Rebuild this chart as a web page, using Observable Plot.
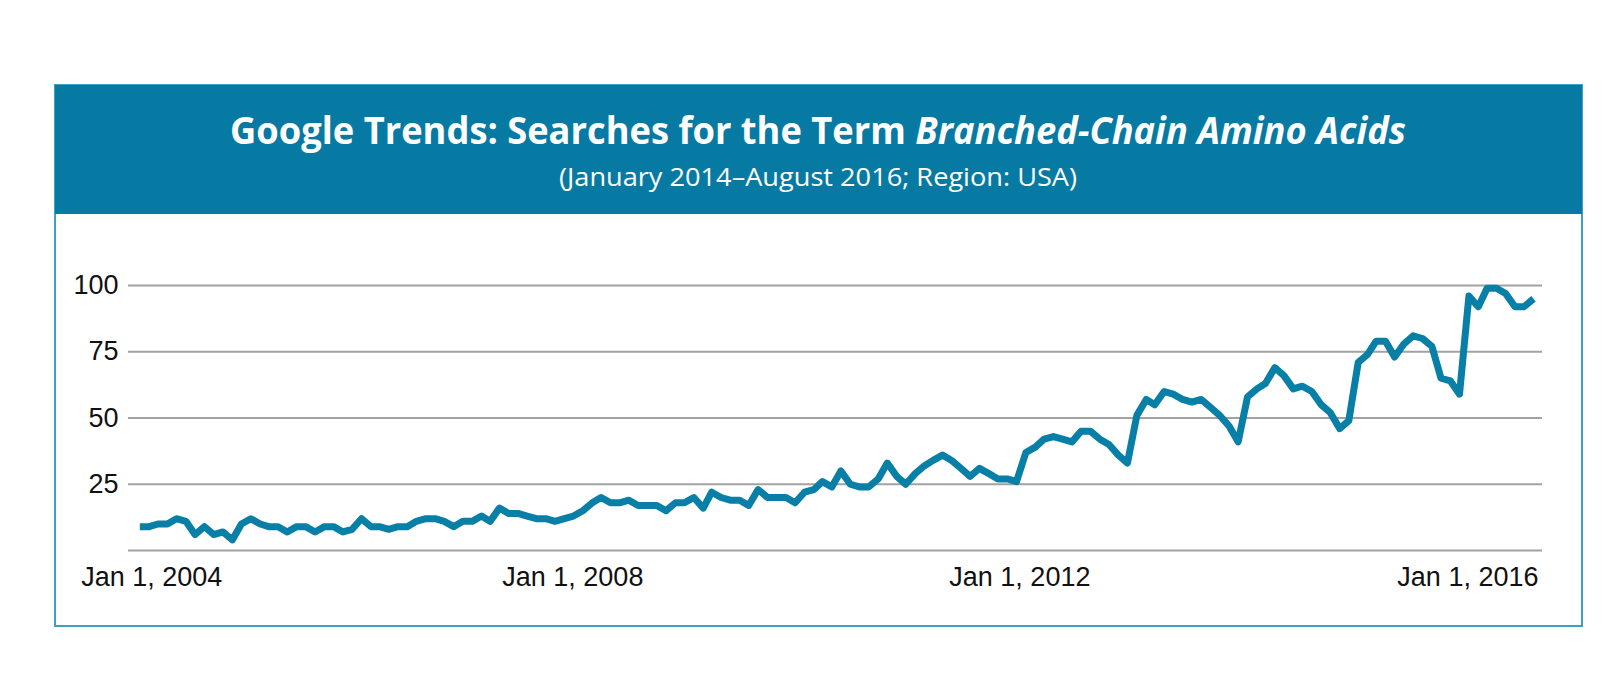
<!DOCTYPE html>
<html><head><meta charset="utf-8">
<script src="https://cdn.jsdelivr.net/npm/d3@7"></script>
<script src="https://cdn.jsdelivr.net/npm/@observablehq/plot@0.6"></script>
<style>
html,body{margin:0;padding:0;background:#fff;width:1624px;height:696px;overflow:hidden;}
#frame{position:absolute;left:54px;top:84px;width:1525px;height:539px;border:2px solid #3f9fc6;}
#band{position:absolute;left:55px;top:85px;width:1527px;height:129px;background:#077aa3;}
#head{position:absolute;left:0;top:0;}
#chart{position:absolute;left:0;top:214px;}
</style></head><body>
<div id="frame"></div>
<div id="band"></div>
<svg id="head" width="1624" height="214">
  <text x="818" y="144" text-anchor="middle" fill="#fff" font-family="Open Sans" font-weight="700" font-size="37" textLength="1176" lengthAdjust="spacingAndGlyphs">Google Trends: Searches for the Term <tspan font-style="italic">Branched-Chain Amino Acids</tspan></text>
  <text x="818" y="186" text-anchor="middle" fill="#fff" font-family="Open Sans" font-weight="400" font-size="25" textLength="518" lengthAdjust="spacingAndGlyphs">(January 2014–August 2016; Region: USA)</text>
</svg>
<div id="chart"></div>
<script>
// Monthly search interest (index, max = 100), January 2004 – August 2016
const y2004 = [9, 9, 10, 10, 12, 11, 6, 9, 6, 7, 4, 10];
const y2005 = [12, 10, 9, 9, 7, 9, 9, 7, 9, 9, 7, 8];
const y2006 = [12, 9, 9, 8, 9, 9, 11, 12, 12, 11, 9, 11];
const y2007 = [11, 13, 11, 16, 14, 14, 13, 12, 12, 11, 12, 13];
const y2008 = [15, 18, 20, 18, 18, 19, 17, 17, 17, 15, 18, 18];
const y2009 = [20, 16, 22, 20, 19, 19, 17, 23, 20, 20, 20, 18];
const y2010 = [22, 23, 26, 24, 30, 25, 24, 24, 27, 33, 28, 25];
const y2011 = [29, 32, 34, 36, 34, 31, 28, 31, 29, 27, 27, 26];
const y2012 = [37, 39, 42, 43, 42, 41, 45, 45, 42, 40, 36, 33];
const y2013 = [51, 57, 55, 60, 59, 57, 56, 57, 54, 51, 47, 41];
const y2014 = [58, 61, 63, 69, 66, 61, 62, 60, 55, 52, 46, 49];
const y2015 = [71, 74, 79, 79, 73, 78, 81, 80, 77, 65, 64, 59];
const y2016 = [96, 92, 99, 99, 97, 92, 92, 95];

const startYear = 2004;
const yTicks = [25, 50, 75, 100];
const xTickDates = ["2004-01-01", "2008-01-01", "2012-01-01", "2016-01-01"];
const xTickLabels = ["Jan 1, 2004", "Jan 1, 2008", "Jan 1, 2012", "Jan 1, 2016"];

const values = [y2004, y2005, y2006, y2007, y2008, y2009, y2010, y2011, y2012, y2013, y2014, y2015, y2016].flat();
const start = new Date(Date.UTC(startYear, 0, 1));
const data = values.map((v, i) => ({date: d3.utcMonth.offset(start, i), value: v}));

const DAY = 864e5;
const xDomain = [new Date(+start - 37.3 * DAY), new Date(+data[data.length - 1].date + 29.7 * DAY)];
const labelShift = [12, -10, -6, -1];

const tickAxes = xTickDates.map((d, i) => Plot.axisX({
  ticks: [new Date(d + "T00:00:00Z")],
  tickFormat: () => xTickLabels[i],
  tickSize: 0,
  tickPadding: 16,
  dx: labelShift[i],
  fontSize: 27,
  fill: "#111",
  label: null
}));

const chart = Plot.plot({
  width: 1624,
  height: 412,
  marginLeft: 128,
  marginRight: 82,
  marginTop: 71,
  marginBottom: 76,
  style: {fontFamily: "'Liberation Sans', Arial, sans-serif", background: "transparent", color: "#111"},
  x: {type: "utc", domain: xDomain},
  y: {domain: [0, 100]},
  marks: [
    Plot.ruleY([0, ...yTicks], {stroke: "#a2a2a2", strokeWidth: 2}),
    Plot.axisY({ticks: yTicks, tickSize: 0, tickPadding: 10, fontSize: 27, fill: "#111", label: null}),
    ...tickAxes,
    Plot.line(data, {x: "date", y: "value", stroke: "#077fa7", strokeWidth: 7, strokeLinejoin: "round", strokeLinecap: "butt"})
  ]
});
document.getElementById("chart").appendChild(chart);
</script>
</body></html>
